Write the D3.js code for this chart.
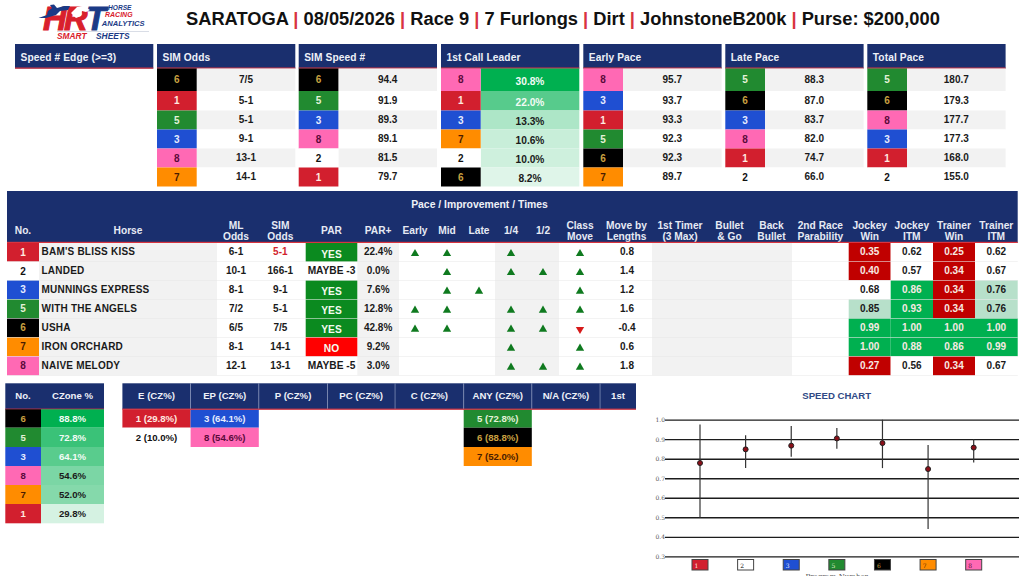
<!DOCTYPE html>
<html>
<head>
<meta charset="utf-8">
<script src="https://cdn.jsdelivr.net/npm/d3@7"></script>
<style>
  html, body { margin: 0; padding: 0; background: #fff; overflow: hidden; }
  svg { display: block; }
  text { font-family: "Liberation Sans", Arial, sans-serif; }
</style>
</head>
<body>
<svg id="sheet" width="1024" height="576"></svg>
<script>
// title
const titleParts = ['SARATOGA', '08/05/2026', 'Race 9', '7 Furlongs', 'Dirt', 'JohnstoneB200k', 'Purse: $200,000'];

// top ranking panels
const panelTitles = ['Speed # Edge (>=3)', 'SIM Odds', 'SIM Speed #', '1st Call Leader', 'Early Pace', 'Late Pace', 'Total Pace'];
const simOddsNos = [6, 1, 5, 3, 8, 7];
const simOddsVals = ['7/5', '5-1', '5-1', '9-1', '13-1', '14-1'];
const simSpeedNos = [6, 5, 3, 8, 2, 1];
const simSpeedVals = ['94.4', '91.9', '89.3', '89.1', '81.5', '79.7'];
const leaderNos = [8, 1, 3, 7, 2, 6];
const leaderVals = [30.8, 22.0, 13.3, 10.6, 10.0, 8.2];
const earlyNos = [8, 3, 1, 5, 6, 7];
const earlyVals = ['95.7', '93.7', '93.3', '92.3', '92.3', '89.7'];
const lateNos = [5, 6, 3, 8, 1, 2];
const lateVals = ['88.3', '87.0', '83.7', '82.0', '74.7', '66.0'];
const totalNos = [5, 6, 8, 3, 1, 2];
const totalVals = ['180.7', '179.3', '177.7', '177.3', '168.0', '155.0'];

// main table
const horseNos = [1, 2, 3, 5, 6, 7, 8];
const horseNames = ["BAM'S BLISS KISS", 'LANDED', 'MUNNINGS EXPRESS', 'WITH THE ANGELS', 'USHA', 'IRON ORCHARD', 'NAIVE MELODY'];
const mlOdds = ['6-1', '10-1', '8-1', '7/2', '6/5', '8-1', '12-1'];
const simOdds = ['5-1', '166-1', '9-1', '5-1', '7/5', '14-1', '13-1'];
const parCalls = ['YES', 'MAYBE -3', 'YES', 'YES', 'YES', 'NO', 'MAYBE -5'];
const parPlus = ['22.4%', '0.0%', '7.6%', '12.8%', '42.8%', '9.2%', '3.0%'];
const earlyFlags = [1, 0, 0, 1, 1, 0, 0];
const midFlags = [1, 1, 1, 1, 1, 0, 0];
const lateFlags = [0, 0, 1, 0, 0, 0, 0];
const quarterFlags = [1, 1, 0, 1, 1, 1, 1];
const halfFlags = [0, 1, 0, 1, 1, 0, 1];
const classMoves = [1, 1, 1, 1, -1, 1, 1];
const moveLengths = ['0.8', '1.4', '1.2', '1.6', '-0.4', '0.6', '1.8'];
const jockeyWin = [0.35, 0.40, 0.68, 0.85, 0.99, 1.00, 0.27];
const jockeyItm = [0.62, 0.57, 0.86, 0.93, 1.00, 0.88, 0.56];
const trainerWin = [0.25, 0.34, 0.34, 0.34, 1.00, 0.86, 0.34];
const trainerItm = [0.62, 0.67, 0.76, 0.76, 1.00, 0.99, 0.67];

// czone tables
const czoneNos = [6, 5, 3, 8, 7, 1];
const czoneVals = [88.8, 72.8, 64.1, 54.6, 52.0, 29.8];
const styleHeads = ['E (CZ%)', 'EP (CZ%)', 'P (CZ%)', 'PC (CZ%)', 'C (CZ%)', 'ANY (CZ%)', 'N/A (CZ%)', '1st'];
const styleNos = [[1, 2], [3, 8], [], [], [], [5, 6, 7], [], []];
const styleVals = [[29.8, 10.0], [64.1, 54.6], [], [], [], [72.8, 88.8, 52.0], [], []];

// speed chart
const speedNos = [1, 2, 3, 5, 6, 7, 8];
const speedMean = [0.778, 0.848, 0.867, 0.904, 0.880, 0.747, 0.857];
const speedHigh = [0.976, 0.920, 0.968, 0.957, 1.000, 0.870, 0.900];
const speedLow = [0.498, 0.752, 0.810, 0.851, 0.752, 0.440, 0.781];
const speedTicks = [0.3, 0.4, 0.5, 0.6, 0.7, 0.8, 0.9, 1.0];

const NAVY = '#1a2f6e', RED_LINE = '#d8343f', GRAY = '#f2f2f2', INK = '#1a1a1a', GREEN = '#00b050';
const LOGO_BLUE = '#1b3a86', LOGO_RED = '#d9202c';
const clothFill = { 1: '#d21f2e', 2: '#ffffff', 3: '#1f4fd2', 5: '#218a30', 6: '#000000', 7: '#ff8c00', 8: '#ff69b4' };
const clothText = { 1: '#ffe9e0', 2: '#111111', 3: '#e6ecff', 5: '#e4f2d8', 6: '#c9a040', 7: '#4a1c00', 8: '#5a0a3a' };

const svg = d3.select('#sheet');

function label (g, x, y, str, opts = {}) {
  return g.append('text')
    .attr('x', x).attr('y', y)
    .attr('text-anchor', opts.anchor || 'middle')
    .attr('dominant-baseline', 'central')
    .attr('font-size', opts.size || 10)
    .attr('font-weight', opts.weight || 700)
    .attr('font-style', opts.italic ? 'italic' : null)
    .attr('letter-spacing', opts.spacing || null)
    .attr('fill', opts.fill || INK)
    .text(str);
}

function box (g, x, y, w, h, fill) {
  return g.append('rect').attr('x', x).attr('y', y).attr('width', w).attr('height', h).attr('fill', fill);
}

function cloth (g, x, y, w, h, no, size) {
  box(g, x, y, w, h, clothFill[no]);
  label(g, x + w / 2, y + h / 2, no, { fill: clothText[no], size: size || 10 });
}

// ---- logo
function drawLogo () {
  const g = svg.append('g');
  const big = g.append('g').attr('transform', 'translate(43,29.5) scale(1.16,1.17)');
  [['H', 0, LOGO_RED], ['R', 18, LOGO_RED], ['T', 37, LOGO_BLUE]].forEach(([ch, x, fill]) => {
    big.append('text').attr('x', x).attr('y', 0)
      .attr('font-size', 28).attr('font-weight', 700).attr('font-style', 'italic')
      .attr('fill', fill).attr('stroke', fill).attr('stroke-width', 0.9).text(ch);
  });
  // rider over the H, horse head cut out of the R
  g.append('path').attr('d', 'M38.5 18 L47 15 L48 11 L52 8 L50 5 L54 4.5 L57 8 L64 6 L70 6 L68 10 L60 11 L56 15 L46 18 Z').attr('fill', LOGO_BLUE);
  g.append('path').attr('d', 'M71 13 L77 7 L83 6 L90 10 L86 12 L82 11 L81 16 L76 18 Z').attr('fill', '#ffffff');
  label(g, 108, 7.3, 'HORSE', { anchor: 'start', size: 6.6, italic: true, fill: LOGO_BLUE });
  label(g, 105, 14.7, 'RACING', { anchor: 'start', size: 7, italic: true, fill: LOGO_RED });
  label(g, 101.7, 23.3, 'ANALYTICS', { anchor: 'start', size: 7.6, italic: true, fill: LOGO_BLUE });
  box(g, 57, 31, 92, 0.7, '#c9cfdb');
  label(g, 57, 36.3, 'SMART', { anchor: 'start', size: 8.4, italic: true, fill: LOGO_RED });
  label(g, 96, 36.3, 'SHEETS', { anchor: 'start', size: 8.4, italic: true, fill: LOGO_BLUE });
}

// ---- race title
function drawTitle () {
  const t = svg.append('text').attr('x', 186).attr('y', 18)
    .attr('dominant-baseline', 'central')
    .attr('font-size', 18.3).attr('font-weight', 700).attr('fill', '#111');
  titleParts.forEach((part, i) => {
    if (i > 0) t.append('tspan').attr('fill', RED_LINE).text(' | ');
    t.append('tspan').text(part);
  });
}

// ---- ranking panels
const leaderColor = d3.scaleLinear().domain([5, 30.8]).range(['#ffffff', GREEN]).clamp(true);
const czoneColor = d3.scaleLinear().domain([18, 88.8]).range(['#ffffff', GREEN]).clamp(true);

function drawPanels () {
  const lefts = [15, 157, 298.7, 441, 583.3, 725.3, 867.3];
  const width = 138.3, numW = 39.7;
  const rowY = d3.scaleOrdinal().domain(d3.range(7)).range([68.5, 91, 110.5, 129.5, 148.5, 167.5, 186.5]);
  const sets = [null, [simOddsNos, simOddsVals], [simSpeedNos, simSpeedVals], [leaderNos, leaderVals],
    [earlyNos, earlyVals], [lateNos, lateVals], [totalNos, totalVals]];

  panelTitles.forEach((title, p) => {
    const g = svg.append('g');
    const x = lefts[p];
    box(g, x, 44, width, 24.5, NAVY);
    box(g, x, 67.5, width, 1.2, RED_LINE);
    label(g, x + 5.5, 57, title, { anchor: 'start', size: 10.2, fill: '#eef1f8', spacing: 0.1 });
    if (!sets[p]) return;
    const [nos, vals] = sets[p];
    nos.forEach((no, i) => {
      const y = rowY(i), h = rowY(i + 1) - y;
      if (p === 3) {
        const v = vals[i];
        box(g, x + numW, y, width - numW, h, leaderColor(v));
        label(g, x + numW + (width - numW) / 2, y + h / 2 + 1.5, d3.format('.1f')(v) + '%',
          { size: 10.2, fill: v > 20 ? '#f2fbf5' : INK });
      } else {
        box(g, x + numW, y, width - numW, h, i % 2 === 0 ? GRAY : '#ffffff');
        label(g, x + numW + (width - numW) / 2, y + h / 2 - 0.5, vals[i], { size: 10 });
      }
      cloth(g, x, y, numW, h, no);
    });
  });
}

// ---- main table
function drawMain () {
  const g = svg.append('g');
  const left = 7, right = 1017.7;
  const rows = d3.scaleOrdinal().domain(d3.range(8)).range([242.7, 261.7, 280.3, 299.3, 318.3, 337.3, 356.3, 375.3]);
  const headFill = '#e6eaf4', headSize = 10.2;

  box(g, left, 191, right - left, 52, NAVY);
  label(g, 479.5, 204.7, 'Pace / Improvement / Times', { size: 10.4, fill: '#eef1f8' });

  const cols = [
    { key: 'no', a: 7, b: 39, head: ['No.'] },
    { key: 'horse', a: 39, b: 217, head: ['Horse'], gray: true },
    { key: 'ml', a: 217, b: 255, head: ['ML', 'Odds'] },
    { key: 'sim', a: 255, b: 305.7, head: ['SIM', 'Odds'] },
    { key: 'par', a: 305.7, b: 357.3, head: ['PAR'] },
    { key: 'plus', a: 357.3, b: 399, head: ['PAR+'], gray: true },
    { key: 'early', a: 399, b: 431, head: ['Early'] },
    { key: 'mid', a: 431, b: 463, head: ['Mid'] },
    { key: 'late', a: 463, b: 495, head: ['Late'] },
    { key: 'q', a: 495, b: 527, head: ['1/4'], gray: true },
    { key: 'h', a: 527, b: 559, head: ['1/2'], gray: true },
    { key: 'cm', a: 559, b: 601, head: ['Class', 'Move'] },
    { key: 'mv', a: 601, b: 652, head: ['Move by', 'Lengths'] },
    { key: 't1', a: 652, b: 708, head: ['1st Timer', '(3 Max)'], gray: true },
    { key: 'bg', a: 708, b: 751, head: ['Bullet', '& Go'], gray: true },
    { key: 'bb', a: 751, b: 792, head: ['Back', 'Bullet'], gray: true },
    { key: 'r2', a: 792, b: 848.7, head: ['2nd Race', 'Parability'] },
    { key: 'jw', a: 848.7, b: 890.7, head: ['Jockey', 'Win'] },
    { key: 'ji', a: 890.7, b: 933, head: ['Jockey', 'ITM'] },
    { key: 'tw', a: 933, b: 975, head: ['Trainer', 'Win'] },
    { key: 'ti', a: 975, b: 1017.7, head: ['Trainer', 'ITM'] }
  ];
  const colOf = {};
  cols.forEach(c => { c.mid = (c.a + c.b) / 2; colOf[c.key] = c; });

  // headers and gray column bands
  cols.forEach(c => {
    if (c.head.length === 1) {
      label(g, c.mid, 230.3, c.head[0], { size: headSize, fill: headFill });
    } else {
      label(g, c.mid, 225, c.head[0], { size: headSize, fill: headFill });
      label(g, c.mid, 236.3, c.head[1], { size: headSize, fill: headFill });
    }
    if (c.gray) box(g, c.a, rows(0), c.b - c.a, rows(7) - rows(0), GRAY);
  });

  // tiers for the jockey and trainer cells
  const tierColors = ['#c00000', '#ffffff', '#b7e0ca', GREEN];
  const tierScales = {
    jw: d3.scaleThreshold().domain([0.5, 0.8, 0.9]).range(tierColors),
    ji: d3.scaleThreshold().domain([0.5, 0.8, 0.85]).range(tierColors),
    tw: d3.scaleThreshold().domain([0.5, 0.8, 0.85]).range(tierColors),
    ti: d3.scaleThreshold().domain([0.5, 0.7, 0.9]).range(tierColors)
  };
  const tierVals = { jw: jockeyWin, ji: jockeyItm, tw: trainerWin, ti: trainerItm };
  const triangle = d3.symbol().type(d3.symbolTriangle).size(30);

  function mark (c, y, dir) {
    g.append('path').attr('d', triangle)
      .attr('transform', `translate(${c.mid},${y + 11}) rotate(${dir < 0 ? 180 : 0})`)
      .attr('fill', dir < 0 ? '#d61a1a' : '#0f7a1f');
  }

  horseNos.forEach((no, i) => {
    const y = rows(i), h = rows(i + 1) - y, cy = y + h / 2 - 0.7;
    cloth(g, colOf.no.a, y, colOf.no.b - colOf.no.a, h, no);
    label(g, 41.5, cy, horseNames[i], { anchor: 'start', size: 10, spacing: 0.22 });
    label(g, colOf.ml.mid, cy, mlOdds[i]);
    label(g, colOf.sim.mid, cy, simOdds[i], { fill: i === 0 ? '#d21f2e' : INK });

    const pc = colOf.par, call = parCalls[i];
    if (call === 'YES' || call === 'NO') {
      box(g, pc.a, y, pc.b - pc.a, h, call === 'YES' ? '#0b8a1f' : '#ff0000');
      label(g, pc.mid, cy + 2.5, call, { size: 10.2, fill: '#f4fbef' });
    } else {
      label(g, pc.mid, cy, call, { size: 10.2 });
    }
    label(g, colOf.plus.mid, cy, parPlus[i]);

    if (earlyFlags[i]) mark(colOf.early, y, 1);
    if (midFlags[i]) mark(colOf.mid, y, 1);
    if (lateFlags[i]) mark(colOf.late, y, 1);
    if (quarterFlags[i]) mark(colOf.q, y, 1);
    if (halfFlags[i]) mark(colOf.h, y, 1);
    mark(colOf.cm, y, classMoves[i]);
    label(g, 627, cy, moveLengths[i]);

    Object.keys(tierVals).forEach(k => {
      const c = colOf[k], v = tierVals[k][i], fill = tierScales[k](v);
      box(g, c.a, y, c.b - c.a, h, fill);
      const light = fill === '#c00000' || fill === GREEN;
      label(g, c.mid, cy, d3.format('.2f')(v), { fill: light ? '#f7e9e3' : INK });
    });
  });

  // thin row rules and the red line below the header
  d3.range(1, 8).forEach(i => {
    box(g, left, rows(i) - 0.3, right - left, 0.6, '#e6e6e6').attr('opacity', 0.8);
  });
  box(g, left, 241.8, right - left, 1.2, RED_LINE);
}

// ---- czone tables
function drawCzone () {
  const g = svg.append('g');
  const rows = d3.scaleOrdinal().domain(d3.range(7)).range([409.3, 427.7, 447, 466, 485, 504, 523.3]);
  box(g, 5.3, 383.3, 98.7, 26, NAVY);
  box(g, 5.3, 408.6, 98.7, 1.2, RED_LINE);
  label(g, 23, 395.5, 'No.', { size: 9.6, fill: '#eef1f8' });
  label(g, 72.5, 395.5, 'CZone %', { size: 9.6, fill: '#eef1f8' });
  czoneNos.forEach((no, i) => {
    const y = rows(i), h = rows(i + 1) - y, v = czoneVals[i];
    cloth(g, 5.3, y, 35.7, h, no, 9.6);
    box(g, 41, y, 63, h, czoneColor(v));
    label(g, 72.5, y + h / 2, d3.format('.1f')(v) + '%', { size: 9.6, fill: v > 60 ? '#f2fbf5' : INK });
  });

  const edges = [122.4, 190.6, 258.8, 327.3, 395, 463.7, 531.8, 600, 636];
  styleHeads.forEach((head, c) => {
    const a = edges[c], b = edges[c + 1];
    box(g, a, 383.3, b - a, 26, NAVY);
    if (c > 0) box(g, a - 0.3, 383.3, 0.7, 26, '#8b98bd');
    label(g, (a + b) / 2, 395.5, head, { size: 9.6, fill: '#eef1f8' });
    styleNos[c].forEach((no, i) => {
      const y = rows(i), h = rows(i + 1) - y;
      box(g, a, y, b - a, h, clothFill[no]);
      label(g, (a + b) / 2, y + h / 2, `${no} (${d3.format('.1f')(styleVals[c][i])}%)`,
        { size: 9.6, fill: clothText[no] });
    });
  });
  box(g, edges[0], 408.6, edges[8] - edges[0], 1.2, RED_LINE);
}

// ---- speed chart
function drawSpeed () {
  const g = svg.append('g');
  const y = d3.scaleLinear().domain([0.3, 1.0]).range([556.3, 419.7]);
  const x = d3.scalePoint().domain(speedNos).range([700, 973.7]);

  label(g, 836.7, 395, 'SPEED CHART', { size: 9.6, fill: '#2f4a86' });

  const axis = g.append('g').attr('transform', 'translate(665,0)')
    .call(d3.axisLeft(y).tickValues(speedTicks).tickFormat(d3.format('.1f')).tickSize(-354).tickPadding(0));
  axis.select('.domain').remove();
  axis.selectAll('.tick line').attr('stroke', '#1c1c1c').attr('stroke-width', 1.3);
  axis.selectAll('.tick text').attr('font-size', 6).attr('fill', '#555')
    .style('font-family', '"DejaVu Serif", serif');

  g.selectAll('.range').data(speedNos).join('line')
    .attr('x1', d => x(d)).attr('x2', d => x(d))
    .attr('y1', (d, i) => y(speedLow[i])).attr('y2', (d, i) => y(speedHigh[i]))
    .attr('stroke', '#333').attr('stroke-width', 1.2);
  g.selectAll('.mean').data(speedNos).join('circle')
    .attr('cx', d => x(d)).attr('cy', (d, i) => y(speedMean[i]))
    .attr('r', 2.5).attr('fill', '#8b0f18').attr('stroke', '#222').attr('stroke-width', 1);

  speedNos.forEach(no => {
    g.append('rect').attr('x', x(no) - 8).attr('y', 559.5).attr('width', 16).attr('height', 10.5)
      .attr('fill', clothFill[no]).attr('stroke', '#444').attr('stroke-width', 1);
    label(g, x(no) - 3.5, 565.5, no, { size: 6, weight: 400, fill: clothText[no] })
      .style('font-family', '"DejaVu Serif", serif');
  });
  label(g, 836.7, 577, 'Program Number', { size: 7, weight: 400, fill: '#444' })
    .style('font-family', '"DejaVu Serif", serif');
}

drawLogo();
drawTitle();
drawPanels();
drawMain();
drawCzone();
drawSpeed();
</script>
</body>
</html>
